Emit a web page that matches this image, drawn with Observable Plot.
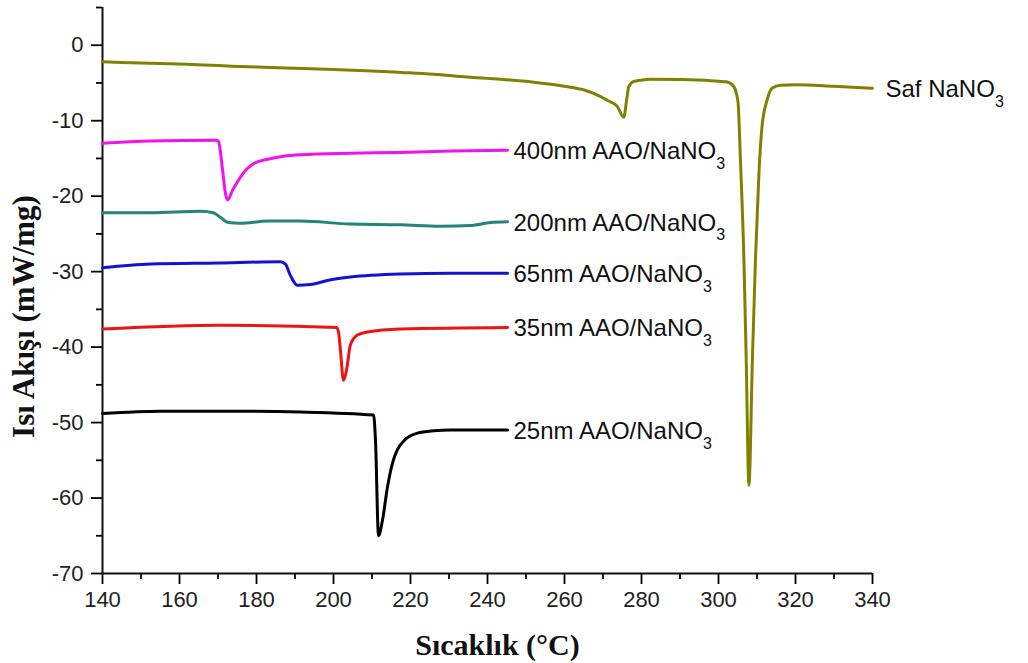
<!DOCTYPE html>
<html>
<head>
<meta charset="utf-8">
<script src="https://cdn.jsdelivr.net/npm/d3@7"></script>
<script src="https://cdn.jsdelivr.net/npm/@observablehq/plot@0.6"></script>
<style>
  html, body { margin: 0; padding: 0; background: #fff; }
  #chart svg { display: block; }
</style>
</head>
<body>
<div id="chart"></div>
<script>
// Axis ticks
const xTicks = [140, 160, 180, 200, 220, 240, 260, 280, 300, 320, 340];
const xMinor = [150, 170, 190, 210, 230, 250, 270, 290, 310, 330];
const yTicks = [-70, -60, -50, -40, -30, -20, -10, 0];
const yMinor = [-65, -55, -45, -35, -25, -15, -5, 5];

// DSC heat-flow curves: [temperature °C, heat flow mW/mg]
const safNaNO3 = [
  [140, -2.2], [150, -2.35], [160, -2.5], [170, -2.7], [180, -2.9], [190, -3.05],
  [200, -3.2], [210, -3.4], [217.4, -3.6], [226, -3.85], [234.7, -4.2], [243.4, -4.5],
  [252, -4.9], [260.8, -5.5], [264.9, -5.9], [269.4, -6.8], [271.1, -7.3], [273.7, -8.1],
  [275.4, -9.55], [276.1, -7.4], [276.7, -5.5], [278, -4.8], [279.7, -4.65], [282.3, -4.5],
  [290, -4.55], [298, -4.7], [302, -4.85], [304.0, -5.5], [304.7, -6.5], [305.1, -7.7],
  [305.7, -15.2], [306.6, -28.4], [307.2, -41.7], [307.9, -58.3], [308.8, -41.7],
  [309.6, -28.4], [310.5, -17], [311.3, -10.8], [312.6, -7.3], [313.9, -5.7], [316.1, -5.3],
  [320, -5.25], [330, -5.45], [340, -5.7]
];
const aao400 = [
  [140, -13.0], [152.5, -12.7], [169.4, -12.6], [170.1, -12.7], [170.6, -14.0],
  [171.2, -16.6], [172.0, -19.8], [172.5, -20.5], [173.8, -19.2], [175.8, -17.5],
  [177.5, -16.4], [179.2, -15.7], [182.9, -15.1], [187, -14.7], [191.4, -14.5],
  [204.4, -14.3], [217.4, -14.2], [230.4, -14.0], [245.2, -13.9]
];
const aao200 = [
  [140, -22.2], [152.5, -22.2], [165.5, -22.0], [168.8, -22.2], [170.6, -22.8],
  [172.7, -23.5], [175.8, -23.6], [182.9, -23.3], [191.4, -23.3], [204.4, -23.7],
  [217.4, -23.8], [227.8, -24.0], [235.6, -23.9], [240.8, -23.5], [245.2, -23.4]
];
const aao65 = [
  [140, -29.5], [152.5, -29.0], [170, -28.85], [186.2, -28.7], [187.5, -29.0],
  [188.8, -30.5], [190.6, -31.8], [194, -31.7], [199, -31.1], [204.4, -30.7],
  [217.4, -30.3], [230.4, -30.2], [245.2, -30.2]
];
const aao35 = [
  [140, -37.6], [170.6, -37.1], [200.8, -37.4], [201.3, -38.0], [201.8, -40.4],
  [202.6, -44.4], [203.4, -43.0], [204.4, -39.7], [206.2, -38.4], [208.8, -38.0],
  [217.4, -37.6], [245.2, -37.4]
];
const aao25 = [
  [140, -48.8], [155.1, -48.5], [175, -48.5], [191.4, -48.6], [210.4, -49.0],
  [210.9, -52.3], [211.7, -65.0], [212.7, -63.0], [214.0, -58.6], [215.3, -55.4],
  [216.6, -53.6], [218.5, -52.3], [221.8, -51.4], [226, -51.1], [230.4, -51.0], [245.2, -51.0]
];

const seriesNames = [
  "Saf NaNO3", "400nm AAO/NaNO3", "200nm AAO/NaNO3",
  "65nm AAO/NaNO3", "35nm AAO/NaNO3", "25nm AAO/NaNO3"
];
const seriesData = [safNaNO3, aao400, aao200, aao65, aao35, aao25];
const seriesColors = ["#828000", "#f012f0", "#21857b", "#1212d2", "#ec1414", "#000000"];

const rows = seriesData.flatMap((pts, i) =>
  pts.map(([t, q]) => ({series: seriesNames[i], t, q}))
);
const pure = rows.filter(d => d.series === seriesNames[0]);
const composites = rows.filter(d => d.series !== seriesNames[0]);

const sans = "'Liberation Sans', Arial, sans-serif";
const serif = "'Liberation Serif', 'Times New Roman', serif";

const chart = Plot.plot({
  width: 1028,
  height: 663,
  marginLeft: 102,
  marginRight: 156,
  marginTop: 7,
  marginBottom: 90,
  style: {fontFamily: sans, background: "#fff"},
  x: {domain: [140, 340], axis: null},
  y: {domain: [-70, 5], axis: null},
  color: {domain: seriesNames, range: seriesColors},
  marks: [
    // axes
    Plot.axisX(xTicks, {label: null, tickSize: 11, tickPadding: 7, fontSize: 22, fill: "#222", strokeWidth: 1.8, tickFormat: d => String(d)}),
    Plot.axisX(xMinor, {label: null, tickSize: 6, strokeWidth: 1.8, tickFormat: () => ""}),
    Plot.axisY(yTicks, {label: null, tickSize: 11, tickPadding: 8, fontSize: 22, fill: "#222", strokeWidth: 1.8, tickFormat: d => String(d)}),
    Plot.axisY(yMinor, {label: null, tickSize: 6, strokeWidth: 1.8, tickFormat: () => ""}),
    Plot.ruleX([140], {y1: -70, y2: 5, strokeWidth: 2, stroke: "#111"}),
    Plot.ruleY([-70], {x1: 140, x2: 340, strokeWidth: 2, stroke: "#111"}),
    // curves
    Plot.line(rows, {x: "t", y: "q", z: "series", stroke: "series", strokeWidth: 3, curve: "monotone-x"}),
    // series labels at the end of each curve
    Plot.text(composites, Plot.selectLast({x: "t", y: "q", z: "series", text: "series", textAnchor: "start", dx: 6, dy: 1, fontSize: 24, fill: "#111"})),
    Plot.text(pure, Plot.selectLast({x: "t", y: "q", z: "series", text: "series", textAnchor: "start", dx: 13, dy: 1, fontSize: 24, fill: "#111"})),
    // axis titles
    Plot.text(["Sıcaklık (°C)"], {frameAnchor: "bottom", textAnchor: "middle", lineAnchor: "middle", dx: 10, dy: 72, fontSize: 30, fontWeight: "bold", fontFamily: serif, fill: "#111"}),
    Plot.text(["Isı Akışı (mW/mg)"], {frameAnchor: "left", textAnchor: "middle", lineAnchor: "middle", rotate: -90, dx: -78, dy: 26, fontSize: 31, fontWeight: "bold", fontFamily: serif, fill: "#111"})
  ]
});

// chemical formula: subscript the trailing "3" of NaNO3
chart.querySelectorAll("text").forEach(t => {
  const s = t.textContent;
  if (!/NaNO3$/.test(s)) return;
  while (t.firstChild) t.removeChild(t.firstChild);
  const ns = "http://www.w3.org/2000/svg";
  const main = document.createElementNS(ns, "tspan");
  main.textContent = s.slice(0, -1);
  const sub = document.createElementNS(ns, "tspan");
  sub.textContent = "3";
  sub.setAttribute("font-size", "16");
  sub.setAttribute("dy", "10");
  t.appendChild(main);
  t.appendChild(sub);
});

document.getElementById("chart").appendChild(chart);
</script>
</body>
</html>
